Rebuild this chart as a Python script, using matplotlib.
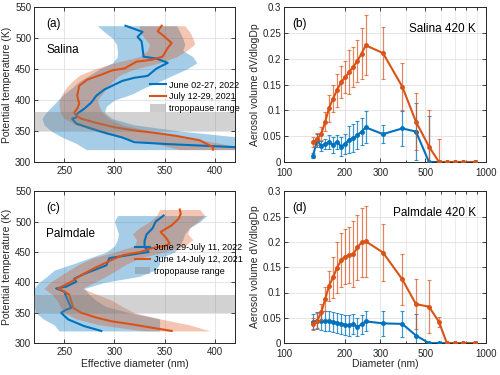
import matplotlib
matplotlib.use('Agg')
import matplotlib.pyplot as plt
from matplotlib.patches import Patch
from matplotlib.ticker import FixedLocator, FuncFormatter

plt.rcParams['font.family'] = ['Liberation Sans', 'DejaVu Sans']

BLUE = '#0072BD'
ORANGE = '#D95319'

# ---- effective diameter profiles (a), (c) ----
band_theta = [520, 510, 500, 490, 480, 470, 460, 450, 440, 430, 420,
              410, 400, 390, 380, 370, 360, 350, 340, 330, 320]

# Salina 2022 (blue)
sal22_theta = [520, 510, 502, 495, 484, 470, 467, 460, 451, 439, 436, 431, 417,
               407, 396, 386, 378, 372, 370, 362, 354, 346, 340, 332, 329, 324]
sal22_d = [311, 328, 323, 327, 328, 329, 342, 353, 342, 333, 320, 308, 290,
           282, 277, 270, 263, 262, 258, 262, 277, 293, 307, 320, 352, 420]
sal22_lo = [283, 290, 298, 302, 303, 303, 298, 285, 275, 265, 258,
            250, 244, 238, 232, 228, 230, 237, 248, 262, 272]
sal22_hi = [362, 365, 368, 370, 368, 378, 382, 372, 358, 345, 330,
            318, 300, 292, 290, 298, 320, 365, 425, 425, 425]

# Salina 2021 (orange)
sal21_theta = [520, 511, 505, 492, 484, 470, 465, 462, 451, 448, 441, 433, 423,
               407, 394, 386, 380, 375, 370, 364, 356, 351, 346, 342, 335, 324, 320]
sal21_d = [347, 343, 348, 357, 353, 348, 337, 322, 310, 298, 287, 273, 265,
           263, 265, 263, 260, 262, 267, 280, 300, 320, 345, 362, 385, 398, 398]
sal21_lo = [325, 325, 330, 335, 333, 325, 300, 280, 265, 258, 252,
            248, 245, 245, 246, 250, 262, 280, 305, 340, 365]
sal21_hi = [370, 375, 378, 380, 372, 362, 345, 320, 305, 298, 293,
            288, 283, 285, 288, 295, 308, 335, 370, 405, 440]

# Palmdale 2022 (blue)
pal22_theta = [510, 500, 489, 479, 468, 459, 450, 442, 440, 428, 414, 406,
               401, 393, 390, 385, 369, 358, 355, 350, 339, 328, 320]
pal22_d = [349, 341, 338, 332, 330, 330, 334, 303, 295, 292, 270, 260,
           262, 252, 242, 250, 254, 257, 252, 247, 254, 270, 287]
pal22_band_theta = band_theta[1:]
pal22_lo = [303, 300, 302, 304, 303, 300, 292, 275, 258, 240,
            233, 225, 220, 220, 220, 220, 222, 229, 240, 245]
pal22_hi = [392, 385, 375, 370, 368, 365, 360, 345, 345, 340,
            325, 290, 270, 275, 282, 292, 315, 345, 345, 345]

# Palmdale 2021 (orange)
pal21_theta = [520, 513, 505, 494, 483, 472, 464, 460, 456, 450, 445, 439, 425,
               412, 401, 390, 385, 380, 369, 358, 350, 342, 336, 331, 320]
pal21_d = [365, 366, 364, 357, 346, 352, 355, 350, 336, 326, 309, 300, 282,
           267, 257, 244, 250, 255, 257, 259, 267, 282, 297, 317, 357]
pal21_lo = [345, 342, 335, 325, 318, 322, 320, 300, 278, 265, 255,
            245, 236, 230, 238, 243, 246, 250, 262, 285, 330]
pal21_hi = [385, 390, 383, 375, 373, 378, 370, 350, 325, 312, 302,
            292, 280, 268, 283, 298, 308, 320, 345, 375, 395]

# ---- size distributions at 420 K (b), (d) ----
diam = [139, 146, 153, 160, 167, 175, 183, 192, 201, 210, 220, 231,
        242, 254, 309, 385, 450, 522, 585, 640, 700, 770, 885]

sal_v22 = [0.012, 0.042, 0.031, 0.035, 0.039, 0.033, 0.039, 0.030, 0.035, 0.043, 0.046, 0.052,
           0.059, 0.067, 0.054, 0.065, 0.059, 0.0, 0, 0, 0, 0, 0]
sal_e22 = [0.005, 0.013, 0.009, 0.010, 0.013, 0.015, 0.013, 0.018, 0.020, 0.026, 0.027, 0.027,
           0.026, 0.031, 0.017, 0.034, 0.055, 0.090, 0, 0, 0, 0, 0]
sal_v21 = [0.039, 0.044, 0.055, 0.078, 0.104, 0.123, 0.139, 0.155, 0.164, 0.174, 0.184, 0.196,
           0.210, 0.226, 0.211, 0.146, 0.078, 0.030, 0, 0, 0, 0, 0]
sal_e21 = [0.010, 0.012, 0.012, 0.018, 0.026, 0.027, 0.032, 0.031, 0.031, 0.043, 0.039, 0.041,
           0.050, 0.058, 0.050, 0.046, 0.055, 0.070, 0.045, 0, 0, 0, 0]

pal_v22 = [0.042, 0.044, 0.043, 0.044, 0.044, 0.041, 0.040, 0.038, 0.036, 0.035, 0.038, 0.032,
           0.037, 0.043, 0.039, 0.038, 0.015, 0.0, 0, 0, 0, 0, 0]
pal_e22 = [0.015, 0.017, 0.018, 0.020, 0.020, 0.020, 0.020, 0.020, 0.020, 0.020, 0.020, 0.018,
           0.018, 0.020, 0.025, 0.025, 0.042, 0, 0, 0, 0, 0, 0]
pal_v21 = [0.0375, 0.044, 0.061, 0.087, 0.113, 0.130, 0.149, 0.164, 0.171, 0.174, 0.176, 0.189,
           0.199, 0.201, 0.179, 0.126, 0.077, 0.072, 0.042, 0, 0, 0, 0]
pal_e21 = [0.012, 0.015, 0.016, 0.023, 0.030, 0.040, 0.050, 0.053, 0.055, 0.056, 0.065, 0.065,
           0.068, 0.070, 0.056, 0.050, 0.050, 0.052, 0.010, 0, 0, 0, 0]

fig = plt.figure(figsize=(5, 3.75), dpi=100)
ax_a = fig.add_axes([0.068, 0.568, 0.402, 0.413])
ax_b = fig.add_axes([0.568, 0.568, 0.404, 0.413])
ax_c = fig.add_axes([0.068, 0.085, 0.402, 0.405])
ax_d = fig.add_axes([0.568, 0.085, 0.404, 0.405])

TXT = '0.15'
TICK_FS = 7
LAB_FS = 7.5


def style(ax):
    ax.tick_params(direction='in', length=3, width=0.6, labelsize=TICK_FS,
                   colors=TXT, top=True, right=True, pad=2)
    ax.tick_params(axis='x', pad=3)
    for s in ax.spines.values():
        s.set_linewidth(0.7)
        s.set_color(TXT)
    ax.grid(True, color='0.88', lw=0.6)
    ax.set_axisbelow(True)


def profile(ax, b_theta, b_d, b_bt, b_lo, b_hi, o_theta, o_d, o_lo, o_hi, labels, site, tag, lg_anchor):
    ax.fill_betweenx(b_bt, b_lo, b_hi, color=BLUE, alpha=0.35, lw=0, zorder=1)
    ax.fill_betweenx(band_theta, o_lo, o_hi, color=ORANGE, alpha=0.33, lw=0, zorder=1)
    ax.plot(b_d, b_theta, color=BLUE, lw=1.5, zorder=2)
    ax.plot(o_d, o_theta, color=ORANGE, lw=1.5, zorder=2)
    ax.axhspan(350, 380, color='0.5', alpha=0.35, lw=0, zorder=3)
    ax.set_xlim(220, 420)
    ax.set_ylim(300, 550)
    ax.set_xticks([250, 300, 350, 400])
    ax.set_yticks([300, 350, 400, 450, 500, 550])
    style(ax)
    ax.set_ylabel('Potential temperature (K)', fontsize=LAB_FS, color=TXT, labelpad=2)
    ax.text(0.06, 0.93, tag, transform=ax.transAxes, fontsize=8.5, va='top')
    ax.text(0.06, 0.72, site, transform=ax.transAxes, fontsize=8.5, va='center')
    handles = [plt.Line2D([], [], color=BLUE, lw=1.5),
               plt.Line2D([], [], color=ORANGE, lw=1.5),
               Patch(facecolor='0.5', alpha=0.4, lw=0)]
    ax.legend(handles, labels, loc='center left', bbox_to_anchor=lg_anchor,
              frameon=False, fontsize=6.5, handlelength=1.7, handletextpad=0.4,
              labelspacing=0.3, borderaxespad=0, handleheight=0.9)


def sizedist(ax, v22, e22, v21, e21, title, tag):
    ax.errorbar(diam, v22, yerr=e22, fmt='none', ecolor=BLUE, elinewidth=0.9,
                capsize=1.5, capthick=0.8, alpha=0.75, zorder=2)
    ax.plot(diam, v22, '-o', color=BLUE, lw=1.5, ms=2.5, zorder=3)
    ax.errorbar(diam, v21, yerr=e21, fmt='none', ecolor=ORANGE, elinewidth=0.9,
                capsize=1.5, capthick=0.8, alpha=0.7, zorder=4)
    ax.plot(diam, v21, '-o', color=ORANGE, lw=1.5, ms=2.5, zorder=5)
    ax.set_xscale('log')
    ax.set_xlim(100, 1000)
    ax.set_ylim(0, 0.3)
    ax.xaxis.set_major_locator(FixedLocator([100, 200, 300, 500, 1000]))
    ax.xaxis.set_major_formatter(FuncFormatter(lambda v, p: f'{v:g}'))
    ax.xaxis.set_minor_locator(FixedLocator([400, 600, 700, 800, 900]))
    ax.xaxis.set_minor_formatter(FuncFormatter(lambda v, p: ''))
    ax.set_yticks([0, 0.05, 0.1, 0.15, 0.2, 0.25, 0.3])
    ax.yaxis.set_major_formatter(FuncFormatter(lambda v, p: f'{v:g}'))
    style(ax)
    ax.tick_params(axis='x', pad=4.5)
    ax.tick_params(which='minor', direction='in', length=1.8, width=0.5, top=True)
    ax.grid(True, which='minor', color='0.9', lw=0.5)
    ax.set_ylabel('Aerosol volume dV/dlogDp', fontsize=LAB_FS, color=TXT, labelpad=2)
    ax.text(0.04, 0.93, tag, transform=ax.transAxes, fontsize=8.5, va='top')
    ax.text(0.95, 0.86, title, transform=ax.transAxes, fontsize=8.5, ha='right', va='center')


profile(ax_a, sal22_theta, sal22_d, band_theta, sal22_lo, sal22_hi,
        sal21_theta, sal21_d, sal21_lo, sal21_hi,
        ['June 02-27, 2022', 'July 12-29, 2021', 'tropopause range'],
        'Salina', '(a)', (0.56, 0.42))
profile(ax_c, pal22_theta, pal22_d, pal22_band_theta, pal22_lo, pal22_hi,
        pal21_theta, pal21_d, pal21_lo, pal21_hi,
        ['June 29-July 11, 2022', 'June 14-July 12, 2021', 'tropopause range'],
        'Palmdale', '(c)', (0.485, 0.55))
ax_c.set_xlabel('Effective diameter (nm)', fontsize=LAB_FS, color=TXT, labelpad=1)

sizedist(ax_b, sal_v22, sal_e22, sal_v21, sal_e21, 'Salina 420 K', '(b)')
sizedist(ax_d, pal_v22, pal_e22, pal_v21, pal_e21, 'Palmdale 420 K', '(d)')
ax_d.set_xlabel('Diameter (nm)', fontsize=LAB_FS, color=TXT, labelpad=0)

fig.savefig('out.png', dpi=100)
